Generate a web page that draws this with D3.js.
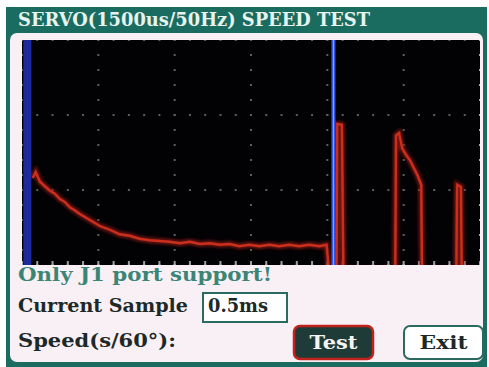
<!DOCTYPE html>
<html><head><meta charset="utf-8">
<script src="https://cdn.jsdelivr.net/npm/d3@7"></script>
<style>body{margin:0;background:#fff}svg{display:block}</style>
</head><body><svg id="c" width="489" height="367"></svg>
<script>
// ---- data (x, y in screen divisions) ----
const titleText = "SERVO(1500us/50Hz) SPEED TEST";
const statusText = "Only J1 port support!";
const sampleLabel = "Current Sample";
const sampleValue = "0.5ms";
const speedLabel = "Speed(s/60°):";
const buttonLabels = ["Test", "Exit"];
const xDivs = [0, 1, 2, 3, 4, 5, 6];
const yDivs = [0, 1, 2, 3];
const cursorX = [0.07, 4.08];
const traceX = [0.14, 0.18, 0.235, 0.30, 0.366, 0.43, 0.497, 0.56, 0.627, 0.69, 0.758, 0.889, 1.02, 1.15, 1.28, 1.41, 1.54, 1.67, 1.80, 1.93, 2.07, 2.20, 2.33, 2.46, 2.59, 2.72, 2.85, 2.98, 3.11, 3.24, 3.37, 3.50, 3.63, 3.76, 3.90, 3.99, 4.02, 4.12, 4.13, 4.19, 4.21, 4.89, 4.90, 4.94, 4.98, 5.03, 5.08, 5.12, 5.18, 5.23, 5.24, 5.69, 5.70, 5.75, 5.76, 5.96];
const traceY = [1.16, 1.24, 1.11, 1.05, 0.99, 0.95, 0.88, 0.84, 0.77, 0.73, 0.68, 0.60, 0.52, 0.47, 0.41, 0.39, 0.35, 0.33, 0.32, 0.31, 0.29, 0.31, 0.28, 0.29, 0.27, 0.28, 0.25, 0.27, 0.25, 0.27, 0.25, 0.27, 0.25, 0.27, 0.25, 0.27, -0.06, -0.06, 1.88, 1.87, -0.06, -0.06, 1.73, 1.76, 1.56, 1.47, 1.40, 1.32, 1.20, 1.07, -0.06, -0.06, 1.07, 1.04, -0.06, -0.06];

const svg = d3.select("#c");
const teal = "#1b6c60";
const font = "'DejaVu Serif', serif";

// frame
svg.append("rect").attr("x", 6).attr("y", 7).attr("width", 481).attr("height", 370).attr("fill", teal);
svg.append("rect").attr("x", 10).attr("y", 33).attr("width", 473).attr("height", 329).attr("rx", 7).attr("fill", "#f8f0f5");
svg.append("text").attr("x", 18).attr("y", 26).attr("fill", "#e6f3ee")
  .attr("font-family", font).attr("font-weight", "bold").attr("font-size", 19)
  .attr("textLength", 352).attr("lengthAdjust", "spacingAndGlyphs").text(titleText);

// scales
const x = d3.scaleLinear().domain([0, 6]).range([22, 480]);
const y = d3.scaleLinear().domain([0, 3]).range([265, 40]);

const defs = svg.append("defs");
const f = defs.append("filter").attr("id", "glow").attr("x", "-20%").attr("y", "-20%").attr("width", "140%").attr("height", "140%");
f.append("feGaussianBlur").attr("stdDeviation", 1.8);
const f2 = defs.append("filter").attr("id", "soft").attr("x", "-50%").attr("width", "200%");
f2.append("feGaussianBlur").attr("stdDeviation", 0.7);
defs.append("clipPath").attr("id", "clip").append("rect")
  .attr("x", x(0)).attr("y", y(3)).attr("width", x(6) - x(0)).attr("height", y(0) - y(3));

const plot = svg.append("g");
plot.append("rect").attr("x", x(0)).attr("y", y(3)).attr("width", x(6) - x(0)).attr("height", y(0) - y(3)).attr("fill", "#020104");
const inner = plot.append("g").attr("clip-path", "url(#clip)");

// grid dots
const sub = d3.range(0, 30 + 1).map(i => i / 5);
const subY = d3.range(0, 15 + 1).map(i => i / 5);
const dots = [];
xDivs.forEach(xd => subY.forEach(yd => dots.push([xd, yd])));
yDivs.forEach(yd => sub.forEach(xd => dots.push([xd, yd])));
inner.append("g").selectAll("rect").data(dots).join("rect")
  .attr("x", d => x(d[0]) - 1).attr("y", d => y(d[1]) - 1).attr("width", 2).attr("height", 2)
  .attr("fill", d => (d[1] === 0 || d[0] === 6) ? "#a8a8a8" : "#5e5e5e");
// bottom ticks
inner.append("g").selectAll("rect").data(sub).join("rect")
  .attr("x", d => x(d) - 1).attr("y", y(0) - 4).attr("width", 2).attr("height", 4).attr("fill", "#a0a0a0");

// trace
const pts = traceX.map((v, i) => [v, traceY[i]]);
const line = d3.line().x(d => x(d[0])).y(d => y(d[1]));
inner.append("path").attr("d", line(pts)).attr("fill", "none").attr("stroke", "#8a1a12").attr("stroke-width", 6).attr("opacity", 0.75).attr("filter", "url(#glow)");
inner.append("path").attr("d", line(pts)).attr("fill", "none").attr("stroke", "#cc2e1c").attr("stroke-width", 2.4).attr("filter", "url(#soft)");

// cursors
inner.append("rect").attr("x", x(cursorX[0]) - 4).attr("y", y(3)).attr("width", 8).attr("height", y(0) - y(3)).attr("fill", "#1c2a9c").attr("filter", "url(#soft)");
inner.append("rect").attr("x", x(cursorX[1]) - 2).attr("y", y(3)).attr("width", 4).attr("height", y(0) - y(3)).attr("fill", "#3554e0").attr("filter", "url(#soft)");
inner.append("rect").attr("x", x(cursorX[1]) - 0.5).attr("y", y(3)).attr("width", 1).attr("height", y(0) - y(3)).attr("fill", "#9aa6f2");

// bottom texts
svg.append("text").attr("x", 18).attr("y", 281).attr("fill", "#3b8577")
  .attr("font-family", font).attr("font-weight", "bold").attr("font-size", 19)
  .attr("textLength", 254).attr("lengthAdjust", "spacingAndGlyphs").text(statusText);
svg.append("text").attr("x", 18).attr("y", 312).attr("fill", "#1d2927")
  .attr("font-family", font).attr("font-weight", "bold").attr("font-size", 19)
  .attr("textLength", 170).attr("lengthAdjust", "spacingAndGlyphs").text(sampleLabel);
svg.append("rect").attr("x", 203).attr("y", 293).attr("width", 84).attr("height", 29).attr("fill", "#ffffff").attr("stroke", "#2a6a60").attr("stroke-width", 2);
svg.append("text").attr("x", 208).attr("y", 312).attr("fill", "#1d2927")
  .attr("font-family", font).attr("font-weight", "bold").attr("font-size", 19)
  .attr("textLength", 60).attr("lengthAdjust", "spacingAndGlyphs").text(sampleValue);
svg.append("text").attr("x", 18).attr("y", 347).attr("fill", "#1d2927")
  .attr("font-family", font).attr("font-weight", "bold").attr("font-size", 19)
  .attr("textLength", 158).attr("lengthAdjust", "spacingAndGlyphs").text(speedLabel);

// buttons
svg.append("rect").attr("x", 294).attr("y", 326).attr("width", 79).attr("height", 33).attr("rx", 6)
  .attr("fill", "#1f3b38").attr("stroke", "#c2221c").attr("stroke-width", 2.5);
svg.append("text").attr("x", 333.5).attr("y", 349).attr("text-anchor", "middle").attr("fill", "#f4f4f4")
  .attr("font-family", font).attr("font-weight", "bold").attr("font-size", 19)
  .attr("textLength", 48).attr("lengthAdjust", "spacingAndGlyphs").text(buttonLabels[0]);
svg.append("rect").attr("x", 404).attr("y", 326).attr("width", 79).attr("height", 33).attr("rx", 6)
  .attr("fill", "#ffffff").attr("stroke", "#2a6a60").attr("stroke-width", 2);
svg.append("text").attr("x", 443.5).attr("y", 349).attr("text-anchor", "middle").attr("fill", "#1d2927")
  .attr("font-family", font).attr("font-weight", "bold").attr("font-size", 19)
  .attr("textLength", 48).attr("lengthAdjust", "spacingAndGlyphs").text(buttonLabels[1]);
</script></body></html>
